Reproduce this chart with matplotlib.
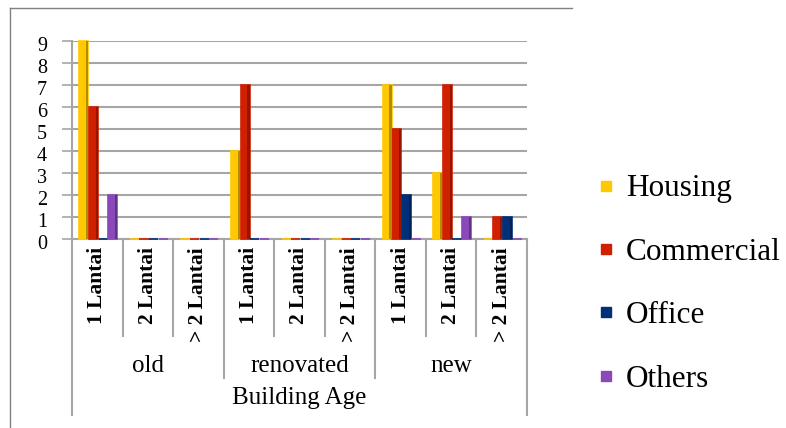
import numpy as np
import matplotlib.pyplot as plt
from matplotlib.lines import Line2D
from matplotlib import transforms
from matplotlib.colors import to_rgb

# data
ages = ["old", "renovated", "new"]
floors = ["1 Lantai", "2 Lantai", "> 2 Lantai"]
series = ["Housing", "Commercial", "Office", "Others"]
housing = [9, 0, 0, 4, 0, 0, 7, 3, 0]
commercial = [6, 0, 0, 7, 0, 0, 5, 7, 1]
office = [0, 0, 0, 0, 0, 0, 2, 0, 1]
others = [2, 0, 0, 0, 0, 0, 0, 1, 0]
colors = ["#FFC800", "#D02000", "#00307A", "#8A48B8"]

W, H = 786, 428
serif = "Liberation Serif"

fig = plt.figure(figsize=(W / 100, H / 100), dpi=100)
ax = fig.add_axes([72 / W, (H - 239) / H, (527 - 72) / W, 198 / H])

x = np.arange(len(floors) * len(ages))
bw = 0.18
sw = 0.045
for k, (vals, c) in enumerate(zip([housing, commercial, office, others], colors)):
    off = (k - 1.5) * 0.19 + 0.02
    ax.bar(x + off, vals, width=bw, color=c, edgecolor=c, linewidth=1.2, zorder=3, clip_on=False)
    dark = tuple(v * 0.7 for v in to_rgb(c))
    ax.bar(x + off + bw / 2 - sw / 2, vals, width=sw, color=dark, linewidth=0, zorder=4)

ax.set_xlim(-0.5, len(x) - 0.5)
ax.set_ylim(0, 9)
ax.set_yticks(range(10))
ax.yaxis.grid(True, color="#A6A6A6", linewidth=1.5, zorder=0)
ax.set_axisbelow(True)
for s in ["top", "right"]:
    ax.spines[s].set_visible(False)
ax.spines["left"].set_color("#A6A6A6")
ax.spines["left"].set_linewidth(1.5)
ax.spines["bottom"].set_color("#A6A6A6")
ax.spines["bottom"].set_linewidth(1.5)
ax.spines["bottom"].set_zorder(2)
ax.tick_params(axis="y", length=7, color="#A6A6A6", width=1.2, pad=11)
for lab in ax.get_yticklabels():
    lab.set_fontfamily(serif)
    lab.set_fontsize(14.5)
    lab.set_transform(lab.get_transform() + transforms.ScaledTranslation(0, -2 / 72, fig.dpi_scale_trans))

ax.set_xticks(x)
ax.set_xticklabels(floors * len(ages), rotation=90, fontfamily=serif,
                   fontweight="bold", fontsize=15.5, va="top", ha="center")
ax.tick_params(axis="x", length=0, pad=6)

# category table lines below the axis
tr = transforms.blended_transform_factory(ax.transData, fig.transFigure)
y0 = (H - 239) / H
for i in range(1, len(x)):
    xb = i - 0.5
    yb = (H - 378) / H if i % 3 == 0 else (H - 336) / H
    fig.add_artist(Line2D([xb, xb], [y0, yb], transform=tr, color="#A6A6A6", lw=1.5))
for xb in [-0.5, len(x) - 0.5]:
    fig.add_artist(Line2D([xb, xb], [y0, (H - 415) / H], transform=tr, color="#A6A6A6", lw=1.5))

for g, name in enumerate(ages):
    fig.text(g * 3 + 1, (H - 366) / H, name, transform=tr, ha="center", va="center",
             fontfamily=serif, fontsize=18)
fig.text((len(x) - 1) / 2, (H - 398) / H, "Building Age", transform=tr, ha="center",
         va="center", fontfamily=serif, fontsize=18)

# outer chart frame (partly cropped)
fig.add_artist(Line2D([10 / W, 10 / W], [1 - 8 / H, 0], color="#808080", lw=1))
fig.add_artist(Line2D([10 / W, 572 / W], [1 - 8 / H, 1 - 8 / H], color="#808080", lw=1))

handles = [Line2D([], [], marker="s", ls="", color=c, markersize=7) for c in colors]
fig.legend(handles, series, loc="center left", bbox_to_anchor=(590 / W, (H - 284) / H),
           frameon=False, prop={"family": serif, "size": 22.5}, labelspacing=1.1,
           handletextpad=0.15, handlelength=1.0, borderpad=0, borderaxespad=0)

fig.savefig("out.png", dpi=100)
